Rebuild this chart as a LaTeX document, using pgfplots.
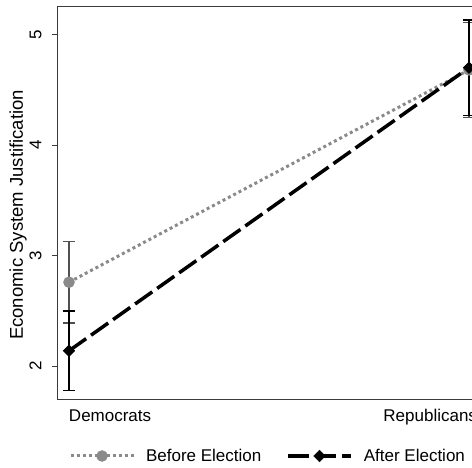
\documentclass[border=0pt]{standalone}
\usepackage{fontspec}
\setmainfont{Liberation Sans}
\usepackage{pgfplots}
\pgfplotsset{compat=1.18}
\definecolor{beforecol}{HTML}{8A8A8A}
\definecolor{beforeerr}{HTML}{505050}
\definecolor{framecol}{HTML}{3A3A3A}
\begin{document}
\begin{tikzpicture}
\begin{axis}[
  at={(58pt,68pt)}, anchor=south west,
  scale only axis, width=422pt, height=393pt,
  xmin=-0.0275, xmax=1.0275,
  ymin=1.695, ymax=5.249,
  axis line style={framecol, line width=1pt},
  font=\fontsize{17}{20}\selectfont,
  /pgf/number format/assume math mode=true,
  xtick={0,1},
  xticklabel={\ifcase\ticknum\makebox[0pt][l]{Democrats}\or\makebox[0pt][r]{Republicans\hspace*{-8pt}}\fi},
  x tick style={draw=none},
  xticklabel style={anchor=north, yshift=0pt},
  ytick={2,3,4,5},
  y tick style={framecol, line width=1pt},
  tick align=outside, major tick length=6pt,
  ytick pos=left, xtick pos=bottom,
  yticklabel style={rotate=90, anchor=south, yshift=7pt},
  ylabel={Economic System Justification},
  every axis y label/.style={at={(axis description cs:0,0.5)}, anchor=center, rotate=90, xshift=-11.5pt, yshift=40pt, font=\fontsize{18.5}{22}\selectfont},
  legend columns=2,
  legend style={draw=none, fill=none, at={(axis description cs:0.5,0)}, anchor=center, xshift=-2pt, yshift=-56pt,
    /tikz/every odd column/.append style={column sep=0pt},
    /tikz/every even column/.append style={column sep=25pt},
    nodes={inner sep=0pt, outer sep=0pt}},
  legend cell align=left,
  legend image code/.code={\draw[mark repeat=2, mark phase=2, #1] plot coordinates {(0pt,0pt) (31.5pt,0pt) (63pt,0pt)};},
]
\addplot[beforecol, line width=3pt, dash pattern=on 3pt off 3pt,
  mark=*, mark size=4.2pt, mark options={solid, fill=beforecol, draw=beforecol},
  error bars/.cd, y dir=both, y explicit, error mark=|,
  error bar style={beforeerr, line width=1.4pt, solid},
  error mark options={beforeerr, line width=1.4pt, mark size=6pt, solid}]
  coordinates {(0,2.76) +- (0,0.37) (1,4.68) +- (0,0.43)};
\addlegendentry{\hspace*{11pt}Before Election}
\addplot[black, line width=3.5pt, dash pattern=on 21pt off 6pt,
  mark=square*, mark size=4.1pt, mark options={solid, rotate=45, fill=black, draw=black, line width=0.5pt},
  error bars/.cd, y dir=both, y explicit, error mark=|,
  error bar style={black, line width=1.4pt, solid},
  error mark options={black, line width=1.4pt, mark size=6pt, solid}]
  coordinates {(0,2.14) +- (0,0.36) (1,4.70) +- (0,0.43)};
\addlegendentry{\hspace*{11pt}After Election}
\end{axis}
\pgfresetboundingbox
\useasboundingbox (0,0) rectangle (472pt,468pt);
\end{tikzpicture}
\end{document}
